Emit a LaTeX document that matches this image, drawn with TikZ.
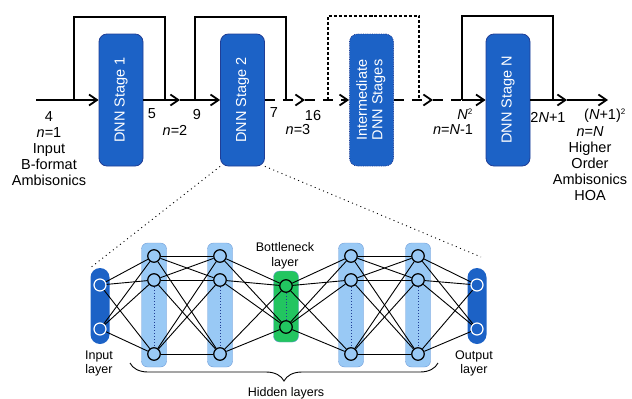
\documentclass[tikz,border=0pt]{standalone}
\usepackage{fontspec}
\setmainfont{Liberation Sans}
\usepackage{xcolor}
\definecolor{stageblue}{RGB}{28,98,198}
\definecolor{stageedge}{RGB}{32,62,150}
\definecolor{hiddenblue}{RGB}{153,201,245}
\definecolor{hiddenedge}{RGB}{110,155,215}
\definecolor{neckgreen}{RGB}{34,197,96}
\usepackage{graphicx}
\usepackage{tikz}
\usetikzlibrary{calc}
\usetikzlibrary{arrows.meta}
\usetikzlibrary{decorations.pathreplacing}
\newcommand{\widthstage}{44pt}
\newcommand{\heightstage}{132pt}
\newcommand{\widthlayer}{25pt}
\newcommand{\widthio}{19pt}
\newcommand{\bigfont}{\fontsize{14.5}{16}\selectfont}
\newcommand{\smallfont}{\fontsize{12.5}{14.5}\selectfont}
\newcommand{\sq}{\textsuperscript{\fontsize{8}{8}\selectfont 2}}
\tikzset{
    common/.style={rectangle, inner sep=0pt},
    stage/.style={common, draw=stageedge, fill=stageblue, thick, rounded corners=8pt,
        minimum width=\widthstage, minimum height=\heightstage, text=white,
        font=\fontsize{14.5}{15.5}\selectfont},
    midstage/.style={stage, densely dotted},
    hiddenlayer/.style={common, draw=hiddenedge, fill=hiddenblue, rounded corners=6pt,
        minimum width=\widthlayer, minimum height=124pt},
    iolayer/.style={common, fill=stageblue, rounded corners=9.5pt,
        minimum width=\widthio, minimum height=76pt},
    necklayer/.style={common, draw=hiddenedge, fill=neckgreen, rounded corners=6pt,
        minimum width=\widthlayer, minimum height=71pt},
    neuron/.style={draw, circle, inner sep=0pt, minimum size=12.5pt, line width=1.2pt},
    hneuron/.style={neuron, fill=hiddenblue},
    ioneuron/.style={neuron, draw=white, fill=stageblue, minimum size=12pt},
    nneuron/.style={neuron, fill=neckgreen},
    synapse/.style={line width=0.9pt},
    inner dots/.style={dotted, line width=0.9pt, stageedge},
    txt/.style={align=center, font=\bigfont, inner sep=0pt},
    smalltxt/.style={align=center, font=\smallfont, inner sep=0pt},
    flow/.style={line width=1.8pt, -{Straight Barb[length=8pt,width=11pt]}},
    bypass/.style={line width=1.8pt},
    gap/.style={dash pattern=on 10pt off 8pt},
    zoomline/.style={dash pattern=on 1pt off 3.5pt, line width=0.9pt}
}

\begin{document}
\begin{tikzpicture}[x=1pt, y=-1pt]
    \useasboundingbox (0,0) rectangle (632,399);

    % processing chain
    \node[stage] (s1) at (121,100) {\rotatebox{90}{DNN Stage 1}};
    \node[stage] (s2) at (242.5,100) {\rotatebox{90}{DNN Stage 2}};
    \node[midstage] (si) at (371.5,100)
        {\rotatebox{90}{\begin{tabular}{@{}c@{}}Intermediate\\DNN Stages\end{tabular}}};
    \node[stage] (sN) at (508,100) {\rotatebox{90}{DNN Stage N}};

    \coordinate (in) at (36,100);
    \coordinate (j1) at (180,100);
    \coordinate (j2) at (305,100);
    \coordinate (j3) at (433,100);
    \coordinate (k) at (462,100);
    \coordinate (j4) at (567,100);
    \coordinate (out) at (608,100);
    \coordinate (b1s) at (74,100);
    \coordinate (b1e) at (165,100);
    \coordinate (b2s) at (195,100);
    \coordinate (b2e) at (286,100);
    \coordinate (bis) at (328,100);
    \coordinate (bie) at (419,100);
    \coordinate (bNe) at (553,100);

    \draw[flow] (in) -- (s1.west);
    \draw[flow] (s1.east) -- (j1);
    \draw[flow] (j1) -- (s2.west);
    \draw[flow, gap] (s2.east) -- (j2);
    \draw[flow, gap] (j2) -- (si.west);
    \draw[flow, gap] (si.east) -- (j3);
    \draw[bypass, gap] (j3) -- (k);
    \draw[flow] (k) -- (sN.west);
    \draw[flow] (sN.east) -- (j4);
    \draw[flow] (j4) -- (out);

    \draw[bypass] (b1s) |- ($(s1.north)+(0,-17)$) -| (b1e);
    \draw[bypass] (b2s) |- ($(s2.north)+(0,-17)$) -| (b2e);
    \draw[bypass, densely dashed] (bis) |- ($(si.north)+(0,-18)$) -| (bie);
    \draw[bypass] (k) |- ($(sN.north)+(0,-18)$) -| (bNe);

    % chain labels
    \node[txt] (lin) at (49,148.5) {4\\\textit{n}=1\\Input\\B-format\\Ambisonics};
    \node[txt] (l5) at (152,114) {5};
    \node[txt] (ln2) at (175,130) {\textit{n}=2};
    \node[txt] (l9) at (197,115) {9};
    \node[txt] (l7) at (274,113) {7};
    \node[txt] (ln3) at (298,130) {\textit{n}=3};
    \node[txt] (l16) at (313,116) {16};
    \node[txt] (lN2) at (465,114.5) {\textit{N}\sq};
    \node[txt] (lnN1) at (453,130) {\textit{n}=\textit{N}-1};
    \node[txt] (l2N) at (548,117) {2\textit{N}+1};
    \node[txt] (lNp) at (605,116) {(\textit{N}+1)\sq};
    \node[txt] (lhoa) at (590,164) {\textit{n}=\textit{N}\\Higher\\Order\\Ambisonics\\HOA};

    % network of stage 2
    \node[iolayer] (inL) at (100,306) {};
    \node[ioneuron] (in-1) at (100,285) {};
    \node[ioneuron] (in-2) at (100,329) {};
    \node[iolayer] (outL) at (477,306) {};
    \node[ioneuron] (out-1) at (477,285) {};
    \node[ioneuron] (out-2) at (477,329) {};
    \node[necklayer] (bnL) at (286,306.5) {};
    \node[nneuron] (bn-1) at (286,286) {};
    \node[nneuron] (bn-2) at (286,327) {};
    \draw[inner dots] (bn-1) -- (bn-2);
    \foreach \x/\n in {154/h1,220/h2,351/h3,418/h4} {
        \node[hiddenlayer] (\n L) at (\x,305) {};
        \node[hneuron] (\n-1) at (\x,256) {};
        \node[hneuron] (\n-2) at (\x,280) {};
        \node[hneuron] (\n-3) at (\x,354) {};
        \draw[inner dots] (\n-2) -- (\n-3);
    }
    \foreach \p/\q/\np/\nq in {in/h1/2/3, h1/h2/3/3, h2/bn/3/2, bn/h3/2/3, h3/h4/3/3, h4/out/3/2} {
        \foreach \a in {1,...,\np}
            \foreach \b in {1,...,\nq}
                \draw[synapse] (\p-\a) -- (\q-\b);
    }

    \node[smalltxt] (lbn) at (285,256) {Bottleneck\\layer};
    \node[smalltxt] (linl) at (99,363.5) {Input\\layer};
    \node[smalltxt] (loutl) at (474,363.5) {Output\\layer};
    \node[smalltxt] (lhid) at (286,393) {Hidden layers};

    \coordinate (bl) at (130,363);
    \coordinate (br) at (438,363);
    \draw[line width=0.9pt, decorate, decoration={brace, mirror, amplitude=18pt}] (bl) -- (br);

    % zoom lines
    \coordinate (zoomend) at (481,257);
    \draw[zoomline] (s2.south west) -- (inL.north west);
    \draw[zoomline] (s2.south east) -- (zoomend);
\end{tikzpicture}
\end{document}
